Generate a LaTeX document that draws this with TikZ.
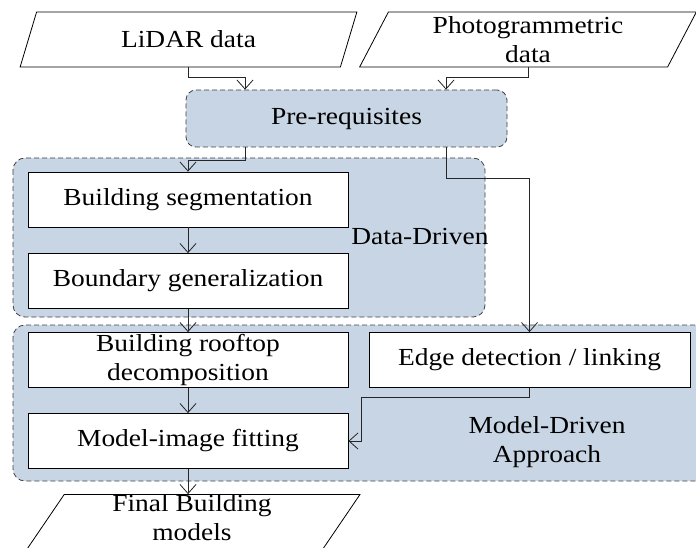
\documentclass[tikz,border=0pt]{standalone}
\usepackage{fontspec}
\setmainfont{Liberation Serif}[FakeStretch=1.12]
\usetikzlibrary{shapes.geometric,arrows.meta}
\definecolor{regionblue}{RGB}{200,213,228}
\begin{document}
\begin{tikzpicture}[x=1pt,y=-1pt,font=\fontsize{24.5}{29}\selectfont,
  proc/.style={draw,line width=0.8pt,fill=white,minimum width=320pt,minimum height=55pt,inner sep=0pt,align=center},
  io/.style={draw,line width=0.8pt,fill=white,trapezium,trapezium left angle=67,trapezium right angle=113,
    trapezium stretches=true,minimum width=337pt,minimum height=55pt,inner sep=0pt,align=center},
  group/.style={draw=black!75,line width=0.8pt,dash pattern=on 5pt off 3pt,fill=regionblue,rounded corners=12pt},
  arr/.style={draw=black!85,line width=0.8pt,-{Straight Barb[length=9pt,width=16pt]}}]
\useasboundingbox (0,0) rectangle (696,548);
% grouping regions
\draw[group] (13,158) rectangle (485,317);
\draw[group] (13,325) rectangle (720,481);
\node (ddlabel) at (420,237) {Data-Driven};
\node (mdlabel) [align=center] at (547,442) {Model-Driven\\Approach};
% inputs
\node (lidar) [io] at (188.5,39.5) {LiDAR data};
\node (photo) [io] at (528,39.5) {Photogrammetric\\data};
\node (pre) [group,rounded corners=10pt,minimum width=321pt,minimum height=57pt] at (346.5,118.5) {Pre-requisites};
% processing steps
\node (seg) [proc] at (188,199.5) {Building segmentation};
\node (bound) [proc] at (188,281) {Boundary generalization};
\node (roof) [proc] at (188,360) {Building rooftop\\decomposition};
\node (edge) [proc,minimum width=321pt] at (529.5,360) {Edge detection / linking};
\node (fit) [proc] at (188,441) {Model-image fitting};
\node (final) [io,text depth=13pt] at (192,524) {Final Building\\models};
% connectors
\draw[arr] (lidar.south) -- ++(0,10) -| ([xshift=-101.5pt]pre.north);
\draw[arr] (photo.south) -- ++(0,10) -| ([xshift=99.5pt]pre.north);
\draw[arr] ([xshift=-101.5pt]pre.south) -- ++(0,13) -| (seg.north);
\draw[arr] ([xshift=99.5pt]pre.south) -- ++(0,31) -| (edge.north);
\draw[arr] (seg) -- (bound);
\draw[arr] (bound) -- (roof);
\draw[arr] (roof) -- (fit);
\draw[arr] (fit.south) -- (fit.south |- final.north);
\draw[arr] (edge.south) -- ++(0,9) -| ([xshift=13pt]fit.east) -- (fit.east);
\end{tikzpicture}
\end{document}
